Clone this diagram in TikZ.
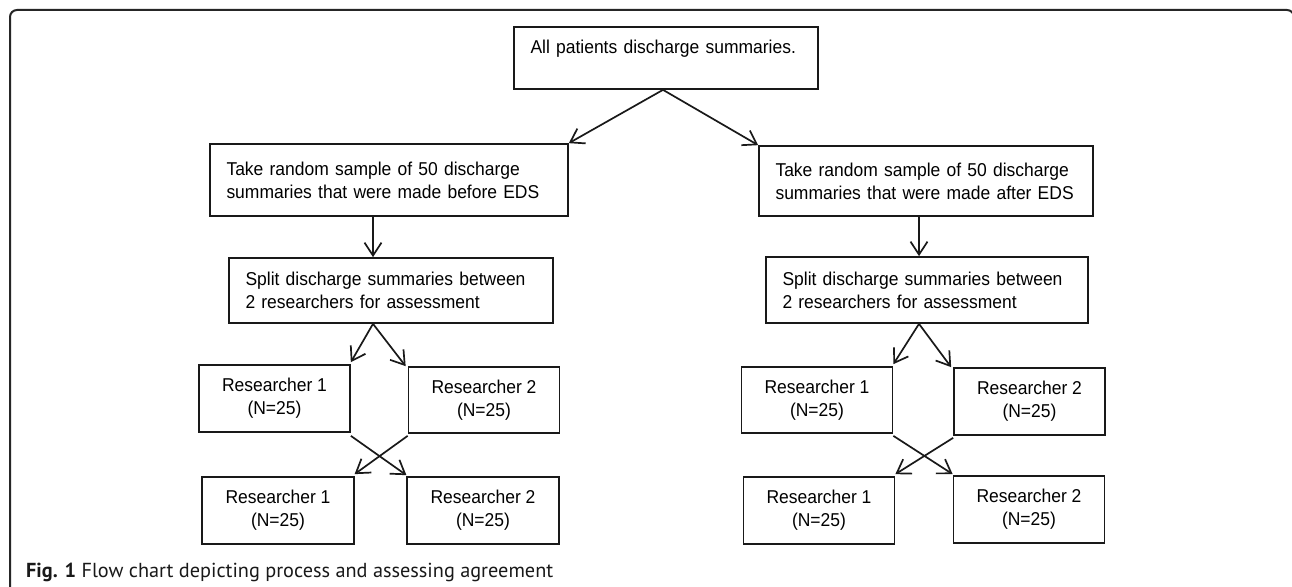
\documentclass[tikz,border=0pt]{standalone}
\usepackage{fontspec}
\setmainfont[FakeStretch=0.94]{Liberation Sans}
\newfontfamily\capfont{PT Sans}
\usetikzlibrary{arrows.meta}
\begin{document}
\begin{tikzpicture}[x=1pt,y=-1pt,
  box/.style={draw=black!90, line width=1.7pt, inner xsep=16.5pt, inner ysep=0pt, align=left, font=\fontsize{18.6}{23}\selectfont},
  rbox/.style={draw=black!90, line width=1.7pt, inner sep=0pt, align=center, font=\fontsize{18.6}{23}\selectfont},
  arr/.style={draw=black!90, line width=1.7pt, -{Straight Barb[length=13pt,width=17pt]}},
]
\useasboundingbox (0,0) rectangle (1292,586);
\clip (0,0) rectangle (1292,586);
\fill[white] (0,0) rectangle (1292,586);
\draw[line width=2pt, draw=black!85, rounded corners=7pt] (10,10) rectangle (1294,620);

\node[box, text width=271pt, minimum height=62pt] (top) at (666,58) {All patients discharge summaries.\\ \mbox{}};
\node[box, text width=325pt, minimum height=72pt] (L2) at (389,180) {Take random sample of 50 discharge\\ summaries that were made before EDS};
\node[box, text width=301pt, minimum height=70pt] (R2) at (926,181) {Take random sample of 50 discharge\\ summaries that were made after EDS};
\node[box, text width=291pt, minimum height=65pt] (LS) at (391,290.5) {Split discharge summaries between\\ 2 researchers for assessment};
\node[box, text width=289pt, minimum height=66pt] (RS) at (927,290) {Split discharge summaries between\\ 2 researchers for assessment};

\node[rbox, minimum width=151pt, minimum height=67pt] (R1a) at (274.5,398.5) {Researcher 1\\ (N=25)};
\node[rbox, minimum width=151pt, minimum height=66pt] (R2a) at (484,400) {Researcher 2\\ (N=25)};
\node[rbox, minimum width=151.5pt, minimum height=67pt] (R1b) at (278,510.5) {Researcher 1\\ (N=25)};
\node[rbox, minimum width=151.5pt, minimum height=67pt] (R2b) at (483,510.5) {Researcher 2\\ (N=25)};

\node[rbox, minimum width=151pt, minimum height=66pt] (R1c) at (817,400) {Researcher 1\\ (N=25)};
\node[rbox, minimum width=151pt, minimum height=67pt] (R2c) at (1029.5,401.5) {Researcher 2\\ (N=25)};
\node[rbox, minimum width=151pt, minimum height=67pt] (R1d) at (819,510.5) {Researcher 1\\ (N=25)};
\node[rbox, minimum width=151pt, minimum height=67pt] (R2d) at (1029,509.5) {Researcher 2\\ (N=25)};

\coordinate (ta) at (663,0);
\coordinate (la) at (373,0);
\coordinate (ra) at (919,0);

\draw[arr] (top.south -| ta) -- (L2.north east);
\draw[arr] (top.south -| ta) -- (R2.north west);
\draw[arr] (L2.south -| la) -- (LS.north -| la);
\draw[arr] (R2.south -| ra) -- (RS.north -| ra);

\draw[arr] (LS.south -| la) -- ([yshift=2pt]R1a.north east);
\draw[arr] (LS.south -| la) -- ([xshift=-2pt]R2a.north west);
\draw[arr] (RS.south -| ra) -- ([yshift=2pt]R1c.north east);
\draw[arr] (RS.south -| ra) -- ([xshift=-2pt]R2c.north west);

\draw[arr] ([yshift=-3pt]R1a.south east) -- ([yshift=1pt]R2b.north west);
\draw[arr] ([yshift=-2pt]R2a.south west) -- ([yshift=2pt]R1b.north east);
\draw[arr] ([yshift=-2pt]R1c.south east) -- ([yshift=1pt]R2d.north west);
\draw[arr] ([yshift=-2pt]R2c.south west) -- ([yshift=2pt]R1d.north east);

\node[anchor=base west, inner sep=0pt, font=\capfont, text=black!90] (cap) at (26,577) {\resizebox{527pt}{!}{\textbf{Fig. 1} Flow chart depicting process and assessing agreement}};
\end{tikzpicture}
\end{document}
